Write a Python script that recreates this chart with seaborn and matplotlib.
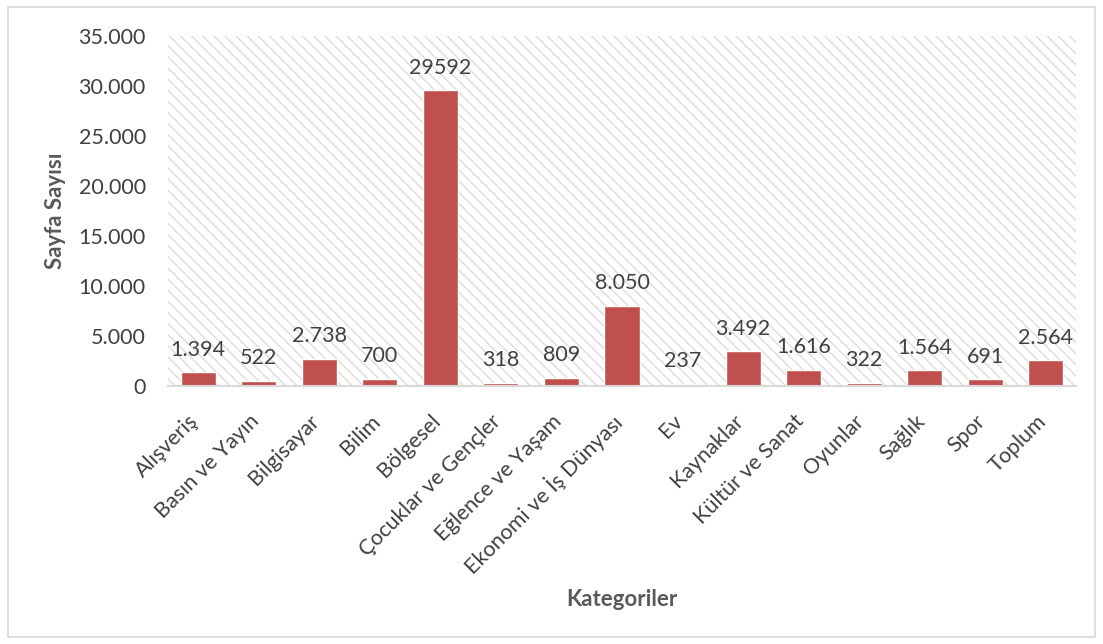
import matplotlib
matplotlib.use("Agg")
import matplotlib.pyplot as plt
from matplotlib.patches import Rectangle
import matplotlib.transforms as mtransforms
import seaborn as sns
import pandas as pd

categories = ["Alışveriş", "Basın ve Yayın", "Bilgisayar", "Bilim", "Bölgesel",
              "Çocuklar ve Gençler", "Eğlence ve Yaşam", "Ekonomi ve İş Dünyası",
              "Ev", "Kaynaklar", "Kültür ve Sanat", "Oyunlar", "Sağlık", "Spor", "Toplum"]
values = [1394, 522, 2738, 700, 29592, 318, 809, 8050, 237, 3492, 1616, 322, 1564, 691, 2564]
value_labels = ["1.394", "522", "2.738", "700", "29592", "318", "809", "8.050", "237",
                "3.492", "1.616", "322", "1.564", "691", "2.564"]
y_ticks = [0, 5000, 10000, 15000, 20000, 25000, 30000, 35000]
y_tick_labels = ["0", "5.000", "10.000", "15.000", "20.000", "25.000", "30.000", "35.000"]

sns.set_theme(style="white")
plt.rcParams['font.family'] = ['Lato', 'DejaVu Sans']

df = pd.DataFrame({"Kategori": categories, "Sayfa": values})

fig = plt.figure(figsize=(11.03, 6.44), dpi=100)
ax = fig.add_axes([168/1103, 1-386/644, (1076-168)/1103, (386-36)/644])

# outer border
fig.patches.append(Rectangle((8/1103, 7/644), (1095-8)/1103, (637-7)/644,
                             transform=fig.transFigure, fill=False,
                             edgecolor='#d9d9d9', linewidth=1.2, figure=fig))

ax.add_patch(Rectangle((0, 0), 1, 1, transform=ax.transAxes, facecolor='white',
                       edgecolor='#dcdcdc', hatch='\\\\\\', linewidth=0, zorder=0))

sns.barplot(data=df, x="Kategori", y="Sayfa", color='#C0504D', width=0.58,
            saturation=1, ax=ax, zorder=2)

text_color = '#404040'
fs = 15.5
ax.set_ylim(0, 35000)
ax.set_yticks(y_ticks)
ax.set_yticklabels(y_tick_labels, fontsize=fs, color=text_color)
ax.set_xticklabels(categories, rotation=45, ha='right', va='center',
                   rotation_mode='anchor', fontsize=fs, color=text_color)
ax.tick_params(axis='y', length=0, pad=16)
ax.tick_params(axis='x', length=0, pad=23)

offset = mtransforms.ScaledTranslation(-3/100, 0, fig.dpi_scale_trans)
for lbl in ax.get_xticklabels():
    lbl.set_transform(lbl.get_transform() + offset)

for s in ['top', 'right', 'left']:
    ax.spines[s].set_visible(False)
ax.spines['bottom'].set_color('#d9d9d9')
ax.spines['bottom'].set_linewidth(1.5)

for i, (v, lab) in enumerate(zip(values, value_labels)):
    ax.annotate(lab, (i, v), xytext=(0, 9), textcoords='offset points',
                ha='center', va='bottom', fontsize=fs, color=text_color, zorder=3)

ax.set_ylabel("Sayfa Sayısı", fontsize=16, fontweight='bold', color='#595959')
ax.yaxis.set_label_coords((66-168)/908, 0.5)
ax.set_xlabel("")
fig.text(622/1103, 1-600/644, "Kategoriler", fontsize=16, fontweight='bold',
         color='#595959', ha='center', va='center')

fig.savefig("out.png", dpi=100)
